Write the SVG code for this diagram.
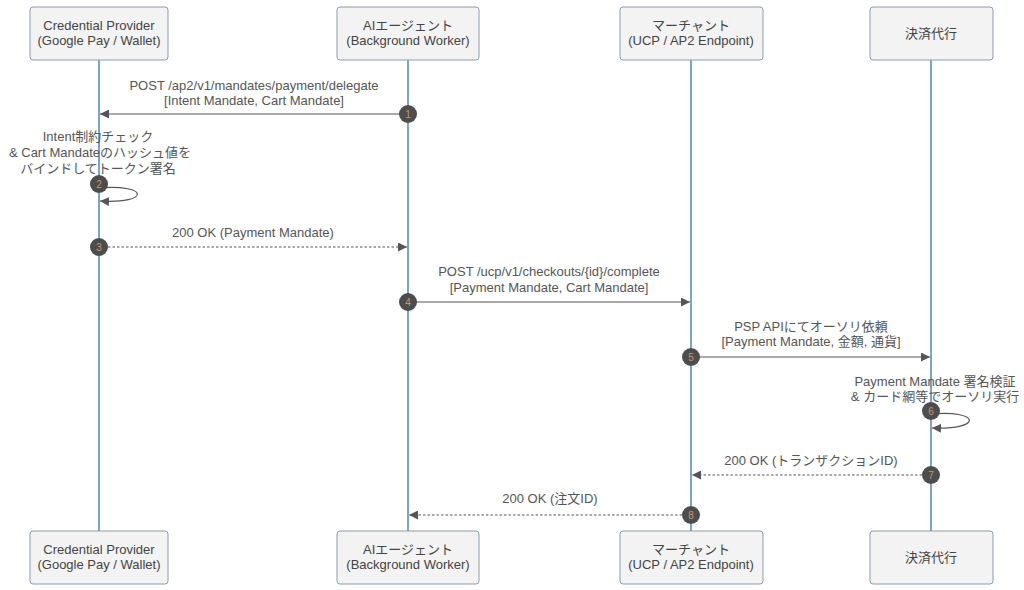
<svg xmlns="http://www.w3.org/2000/svg" width="1024" height="590" viewBox="0 0 1024 590">
<defs>
<style>
.box{fill:#f3f3f3;stroke:#8d9cab;stroke-width:1}
.bt{font-family:"Liberation Sans","Noto Sans CJK JP",sans-serif;font-size:13px;fill:#444;text-anchor:middle}
.life{stroke:#5b8db5;stroke-width:1.6}
.msg{stroke:#555;stroke-width:1.2;fill:none}
.dash{stroke-dasharray:2.5,2}
.lt{font-family:"Liberation Sans","Noto Sans CJK JP",sans-serif;font-size:13px;fill:#555;text-anchor:middle}
.num circle{fill:#4d4d4d}
.num text{font-family:"Liberation Sans",sans-serif;font-size:10px;fill:#c8966a;text-anchor:middle}
</style>
<marker id="ah" viewBox="0 0 10 10" refX="10" refY="5" markerWidth="9" markerHeight="9" markerUnits="userSpaceOnUse" orient="auto">
<path d="M0,0 L10,5 L0,10 z" fill="#555"/>
</marker>
</defs>
<rect width="1024" height="590" fill="#ffffff"/>
<g id="lifelines">
<line class="life" x1="99" y1="60" x2="99" y2="531"/>
<line class="life" x1="408" y1="60" x2="408" y2="531"/>
<line class="life" x1="691" y1="60" x2="691" y2="531"/>
<line class="life" x1="931" y1="60" x2="931" y2="531"/>
</g>
<g id="node-cp-top"><rect class="box" x="30" y="7" width="138" height="53" rx="3"/><text class="bt" x="99" y="30">Credential Provider</text><text class="bt" x="99" y="45">(Google Pay / Wallet)</text></g>
<g id="node-ai-top"><rect class="box" x="337" y="7" width="142" height="53" rx="3"/><text class="bt" x="408" y="30">AIエージェント</text><text class="bt" x="408" y="45">(Background Worker)</text></g>
<g id="node-mc-top"><rect class="box" x="620" y="7" width="143" height="53" rx="3"/><text class="bt" x="691" y="30">マーチャント</text><text class="bt" x="691" y="45">(UCP / AP2 Endpoint)</text></g>
<g id="node-psp-top"><rect class="box" x="870" y="7" width="123" height="53" rx="3"/><text class="bt" x="931" y="38">決済代行</text></g>
<g id="node-cp-bottom"><rect class="box" x="30" y="531" width="138" height="53" rx="3"/><text class="bt" x="99" y="554">Credential Provider</text><text class="bt" x="99" y="569">(Google Pay / Wallet)</text></g>
<g id="node-ai-bottom"><rect class="box" x="337" y="531" width="142" height="53" rx="3"/><text class="bt" x="408" y="554">AIエージェント</text><text class="bt" x="408" y="569">(Background Worker)</text></g>
<g id="node-mc-bottom"><rect class="box" x="620" y="531" width="143" height="53" rx="3"/><text class="bt" x="691" y="554">マーチャント</text><text class="bt" x="691" y="569">(UCP / AP2 Endpoint)</text></g>
<g id="node-psp-bottom"><rect class="box" x="870" y="531" width="123" height="53" rx="3"/><text class="bt" x="931" y="562">決済代行</text></g>
<g id="connectors">
<line class="msg" x1="408" y1="114" x2="100" y2="114" marker-end="url(#ah)"/>
<path class="msg" d="M99,188 C150,184 150,204 100,201" marker-end="url(#ah)"/>
<line class="msg dash" x1="99" y1="247" x2="407" y2="247" marker-end="url(#ah)"/>
<line class="msg" x1="408" y1="302" x2="690" y2="302" marker-end="url(#ah)"/>
<line class="msg" x1="691" y1="357" x2="930" y2="357" marker-end="url(#ah)"/>
<path class="msg" d="M931,414 C982,410 982,430 932,428" marker-end="url(#ah)"/>
<line class="msg dash" x1="931" y1="475" x2="692" y2="475" marker-end="url(#ah)"/>
<line class="msg dash" x1="691" y1="515" x2="409" y2="515" marker-end="url(#ah)"/>
</g>
<g id="labels">
<text class="lt" x="254" y="90">POST /ap2/v1/mandates/payment/delegate</text>
<text class="lt" x="254" y="105">[Intent Mandate, Cart Mandate]</text>
<text class="lt" x="98" y="141">Intent制約チェック</text>
<text class="lt" x="100" y="157">&amp; Cart Mandateのハッシュ値を</text>
<text class="lt" x="98" y="173">バインドしてトークン署名</text>
<text class="lt" x="253" y="237">200 OK (Payment Mandate)</text>
<text class="lt" x="549" y="276">POST /ucp/v1/checkouts/{id}/complete</text>
<text class="lt" x="549" y="292">[Payment Mandate, Cart Mandate]</text>
<text class="lt" x="811" y="331">PSP APIにてオーソリ依頼</text>
<text class="lt" x="811" y="346">[Payment Mandate, 金額, 通貨]</text>
<text class="lt" x="935" y="386">Payment Mandate 署名検証</text>
<text class="lt" x="935" y="401">&amp; カード網等でオーソリ実行</text>
<text class="lt" x="811" y="465">200 OK (トランザクションID)</text>
<text class="lt" x="550" y="503">200 OK (注文ID)</text>
</g>
<g id="numbers">
<g class="num"><circle cx="408" cy="114" r="9"/><text x="408" y="118">1</text></g>
<g class="num"><circle cx="99" cy="184" r="9"/><text x="99" y="188">2</text></g>
<g class="num"><circle cx="99" cy="247" r="9"/><text x="99" y="251">3</text></g>
<g class="num"><circle cx="408" cy="302" r="9"/><text x="408" y="306">4</text></g>
<g class="num"><circle cx="691" cy="357" r="9"/><text x="691" y="361">5</text></g>
<g class="num"><circle cx="931" cy="411" r="9"/><text x="931" y="415">6</text></g>
<g class="num"><circle cx="931" cy="475" r="9"/><text x="931" y="479">7</text></g>
<g class="num"><circle cx="691" cy="515" r="9"/><text x="691" y="519">8</text></g>
</g>
</svg>
